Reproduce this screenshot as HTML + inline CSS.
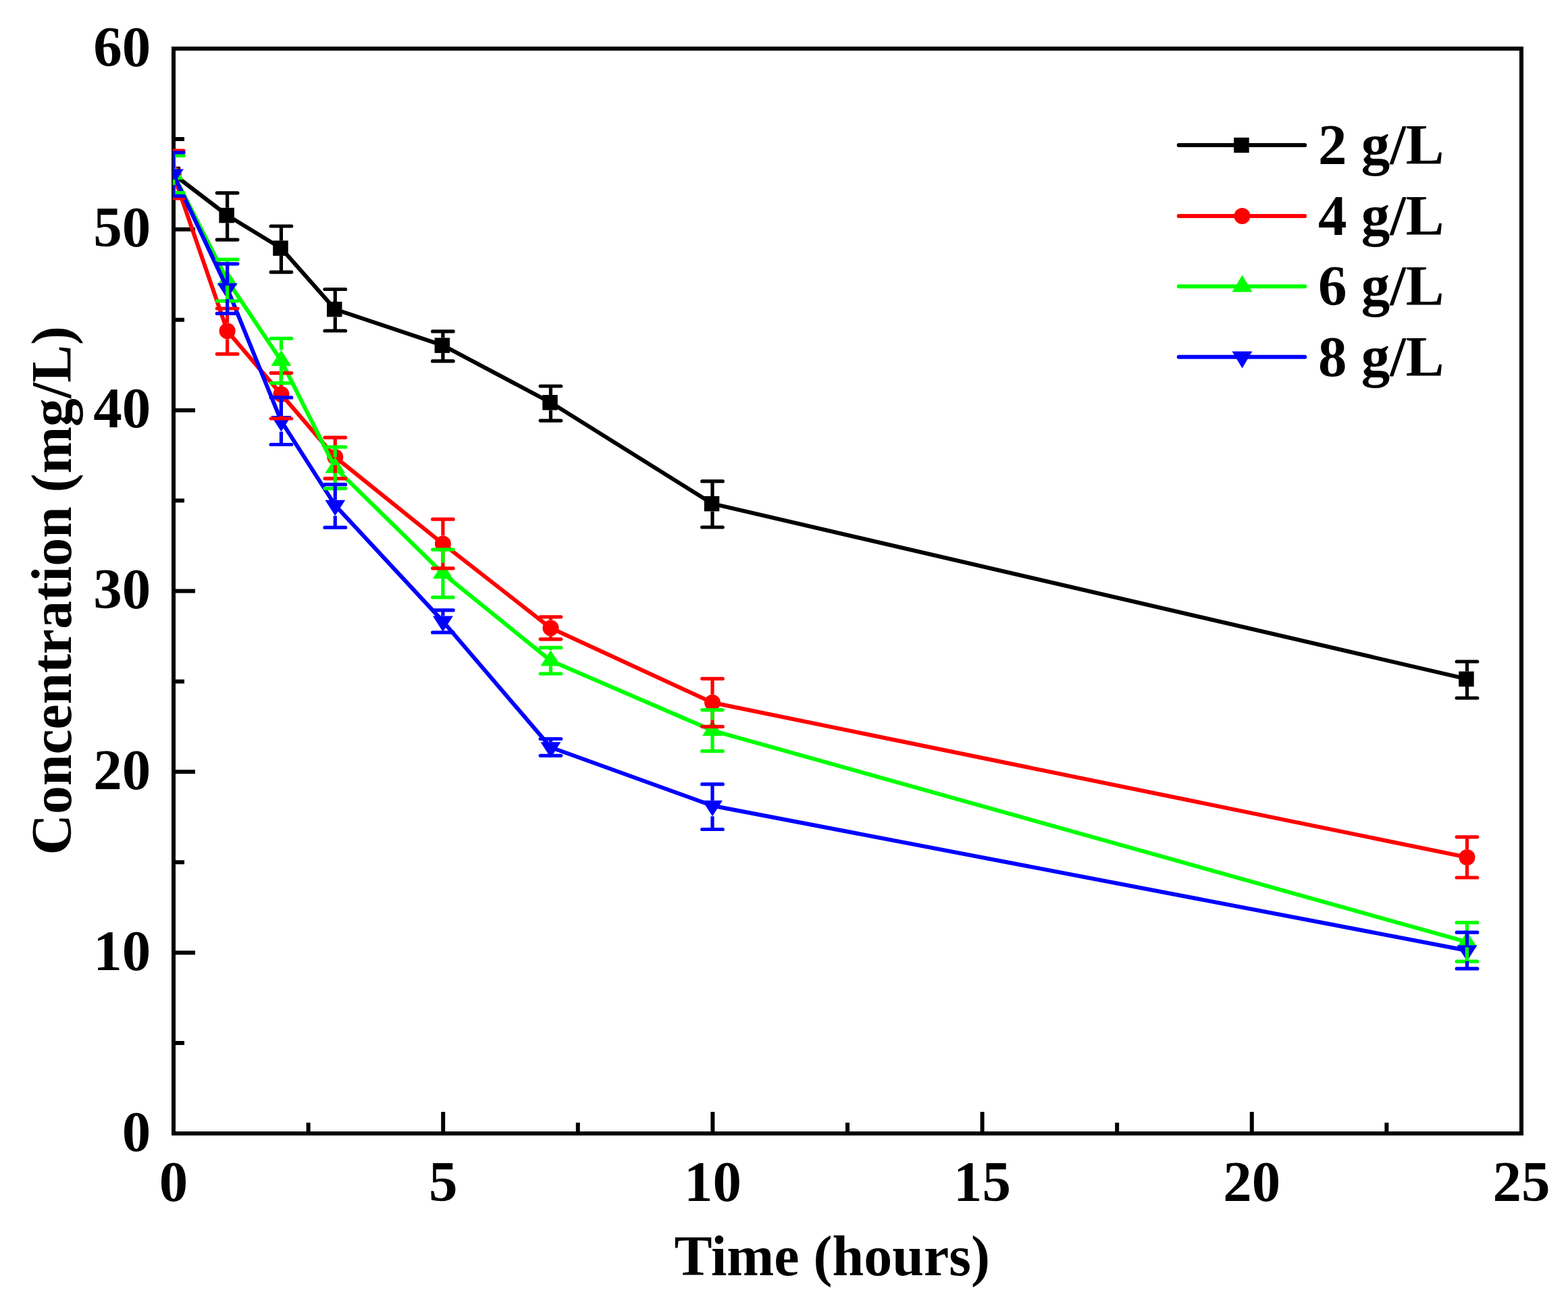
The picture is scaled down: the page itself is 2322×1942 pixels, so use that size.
<!DOCTYPE html>
<html><head><meta charset="utf-8"><title>Concentration vs Time</title>
<style>
html,body{margin:0;padding:0;background:#fff;}
body{width:2322px;height:1942px;overflow:hidden;}
svg{display:block;}
text{font-family:"Liberation Serif","Times New Roman",serif;font-weight:bold;font-size:85px;fill:#000;}
text.t{font-size:84px;}
</style></head><body>
<svg width="2322" height="1942" viewBox="0 0 2322 1942">
<rect width="2322" height="1942" fill="#fff"/>
<defs><clipPath id="pc"><rect x="255.8" y="72.0" width="1997.2" height="1607.0"/></clipPath></defs>

<g stroke="#000" stroke-width="6" fill="none">
<path d="M257.0,69.0V1682.0M2253.0,69.0V1682.0M254.0,72.0H2256.0M254.0,1679.0H2256.0"/>
<path d="M257.0,1679.0V1647.0M656.2,1679.0V1647.0M1055.4,1679.0V1647.0M1454.6,1679.0V1647.0M1853.8,1679.0V1647.0M2253.0,1679.0V1647.0M456.6,1679.0V1663.0M855.8,1679.0V1663.0M1255.0,1679.0V1663.0M1654.2,1679.0V1663.0M2053.4,1679.0V1663.0M257.0,1679.0H289.0M257.0,1411.2H289.0M257.0,1143.3H289.0M257.0,875.5H289.0M257.0,607.7H289.0M257.0,339.8H289.0M257.0,72.0H289.0M257.0,1545.1H273.0M257.0,1277.2H273.0M257.0,1009.4H273.0M257.0,741.6H273.0M257.0,473.8H273.0M257.0,205.9H273.0"/>
</g>
<g clip-path="url(#pc)">
<path d="M256.8,258.0L336.6,319.0L416.4,367.7L496.3,458.2L655.9,511.7L815.5,596.3L1055.0,746.1L2172.5,1005.9" stroke="#000000" stroke-width="6" stroke-linejoin="round" stroke-linecap="round" fill="none"/>
<rect x="244.6" y="246.8" width="22.5" height="22.5" fill="#000000"/>
<rect x="324.4" y="307.8" width="22.5" height="22.5" fill="#000000"/>
<rect x="404.2" y="356.4" width="22.5" height="22.5" fill="#000000"/>
<rect x="484.0" y="446.9" width="22.5" height="22.5" fill="#000000"/>
<rect x="643.6" y="500.4" width="22.5" height="22.5" fill="#000000"/>
<rect x="803.3" y="585.0" width="22.5" height="22.5" fill="#000000"/>
<rect x="1042.8" y="734.9" width="22.5" height="22.5" fill="#000000"/>
<rect x="2160.2" y="994.6" width="22.5" height="22.5" fill="#000000"/>
<path d="M256.8,258.5L336.6,490.3L416.4,584.0L496.3,677.0L655.9,805.5L815.5,930.3L1055.0,1040.8L2172.5,1269.9" stroke="#ff0000" stroke-width="6" stroke-linejoin="round" stroke-linecap="round" fill="none"/>
<circle cx="256.8" cy="258.5" r="12.0" fill="#ff0000"/>
<circle cx="336.6" cy="490.3" r="12.0" fill="#ff0000"/>
<circle cx="416.4" cy="584.0" r="12.0" fill="#ff0000"/>
<circle cx="496.3" cy="677.0" r="12.0" fill="#ff0000"/>
<circle cx="655.9" cy="805.5" r="12.0" fill="#ff0000"/>
<circle cx="815.5" cy="930.3" r="12.0" fill="#ff0000"/>
<circle cx="1055.0" cy="1040.8" r="12.0" fill="#ff0000"/>
<circle cx="2172.5" cy="1269.9" r="12.0" fill="#ff0000"/>
<path d="M256.8,258.1L336.6,415.2L416.4,534.3L496.3,692.9L655.9,849.4L815.5,978.7L1055.0,1082.1L2172.5,1395.4" stroke="#00ff00" stroke-width="6" stroke-linejoin="round" stroke-linecap="round" fill="none"/>
<path d="M256.8,242.4L271.8,265.9L241.8,265.9Z" fill="#00ff00"/>
<path d="M336.6,399.5L351.6,423.0L321.6,423.0Z" fill="#00ff00"/>
<path d="M416.4,518.6L431.4,542.1L401.4,542.1Z" fill="#00ff00"/>
<path d="M496.3,677.2L511.3,700.7L481.3,700.7Z" fill="#00ff00"/>
<path d="M655.9,833.7L670.9,857.2L640.9,857.2Z" fill="#00ff00"/>
<path d="M815.5,963.0L830.5,986.5L800.5,986.5Z" fill="#00ff00"/>
<path d="M1055.0,1066.4L1070.0,1089.9L1040.0,1089.9Z" fill="#00ff00"/>
<path d="M2172.5,1379.7L2187.5,1403.2L2157.5,1403.2Z" fill="#00ff00"/>
<path d="M256.8,258.2L336.6,427.4L416.4,623.7L496.3,748.5L655.9,920.4L815.5,1107.0L1055.0,1193.5L2172.5,1408.0" stroke="#0000ff" stroke-width="6" stroke-linejoin="round" stroke-linecap="round" fill="none"/>
<path d="M256.8,273.9L271.8,250.4L241.8,250.4Z" fill="#0000ff"/>
<path d="M336.6,443.1L351.6,419.6L321.6,419.6Z" fill="#0000ff"/>
<path d="M416.4,639.4L431.4,615.9L401.4,615.9Z" fill="#0000ff"/>
<path d="M496.3,764.2L511.3,740.7L481.3,740.7Z" fill="#0000ff"/>
<path d="M655.9,936.1L670.9,912.6L640.9,912.6Z" fill="#0000ff"/>
<path d="M815.5,1122.7L830.5,1099.2L800.5,1099.2Z" fill="#0000ff"/>
<path d="M1055.0,1209.2L1070.0,1185.7L1040.0,1185.7Z" fill="#0000ff"/>
<path d="M2172.5,1423.7L2187.5,1400.2L2157.5,1400.2Z" fill="#0000ff"/>
<path d="M336.6,285.8V307.8M336.6,330.2V355.1M416.4,335.0V356.4M416.4,378.9V403.1M496.3,428.5V446.9M496.3,469.4V490.0M655.9,490.9V500.4M655.9,523.0V534.9M815.5,572.0V585.0M815.5,607.5V623.1M1055.0,712.9V734.9M1055.0,757.4V781.0M2172.5,980.0V994.6M2172.5,1017.1V1034.0" stroke="#000000" stroke-width="5.2" fill="none"/>
<path d="M321.3,285.8H351.9M321.3,355.1H351.9M401.1,335.0H431.7M401.1,403.1H431.7M481.0,428.5H511.6M481.0,490.0H511.6M640.6,490.9H671.2M640.6,534.9H671.2M800.2,572.0H830.8M800.2,623.1H830.8M1039.7,712.9H1070.3M1039.7,781.0H1070.3M2157.2,980.0H2187.8M2157.2,1034.0H2187.8" stroke="#000000" stroke-width="5.2" stroke-linecap="round" fill="none"/>
<path d="M256.8,223.0V246.5M256.8,270.5V294.0M336.6,457.0V478.3M336.6,502.3V524.3M416.4,552.6V572.0M416.4,596.0V620.0M496.3,648.1V665.0M496.3,689.0V708.8M655.9,769.2V793.5M655.9,817.5V841.8M815.5,913.8V918.3M815.5,942.3V946.8M1055.0,1005.3V1028.8M1055.0,1052.8V1076.3M2172.5,1239.8V1257.9M2172.5,1281.9V1300.0" stroke="#ff0000" stroke-width="5.2" fill="none"/>
<path d="M241.5,223.0H272.1M241.5,294.0H272.1M321.3,457.0H351.9M321.3,524.3H351.9M401.1,552.6H431.7M401.1,620.0H431.7M481.0,648.1H511.6M481.0,708.8H511.6M640.6,769.2H671.2M640.6,841.8H671.2M800.2,913.8H830.8M800.2,946.8H830.8M1039.7,1005.3H1070.3M1039.7,1076.3H1070.3M2157.2,1239.8H2187.8M2157.2,1300.0H2187.8" stroke="#ff0000" stroke-width="5.2" stroke-linecap="round" fill="none"/>
<path d="M256.8,230.6V242.4M256.8,265.9V285.6M336.6,384.4V399.5M336.6,423.0V445.9M416.4,501.4V518.6M416.4,542.1V567.3M496.3,662.2V677.2M496.3,700.7V723.6M655.9,814.1V833.7M655.9,857.2V884.8M815.5,959.4V963.0M815.5,986.5V998.0M1055.0,1051.6V1066.4M1055.0,1089.9V1112.7M2172.5,1366.7V1379.7M2172.5,1403.2V1424.2" stroke="#00ff00" stroke-width="5.2" fill="none"/>
<path d="M241.5,230.6H272.1M241.5,285.6H272.1M321.3,384.4H351.9M321.3,445.9H351.9M401.1,501.4H431.7M401.1,567.3H431.7M481.0,662.2H511.6M481.0,723.6H511.6M640.6,814.1H671.2M640.6,884.8H671.2M800.2,959.4H830.8M800.2,998.0H830.8M1039.7,1051.6H1070.3M1039.7,1112.7H1070.3M2157.2,1366.7H2187.8M2157.2,1424.2H2187.8" stroke="#00ff00" stroke-width="5.2" stroke-linecap="round" fill="none"/>
<path d="M256.8,226.0V250.4M256.8,273.9V290.4M336.6,390.8V419.6M336.6,443.1V464.4M416.4,588.9V615.9M416.4,639.4V658.5M496.3,717.7V740.7M496.3,764.2V781.4M655.9,903.9V912.6M655.9,936.1V936.9M815.5,1094.5V1099.2M1055.0,1161.7V1185.7M1055.0,1209.2V1228.5M2172.5,1381.2V1400.2M2172.5,1423.7V1434.9" stroke="#0000ff" stroke-width="5.2" fill="none"/>
<path d="M241.5,226.0H272.1M241.5,290.4H272.1M321.3,390.8H351.9M321.3,464.4H351.9M401.1,588.9H431.7M401.1,658.5H431.7M481.0,717.7H511.6M481.0,781.4H511.6M640.6,903.9H671.2M640.6,936.9H671.2M800.2,1094.5H830.8M800.2,1119.3H830.8M1039.7,1161.7H1070.3M1039.7,1228.5H1070.3M2157.2,1381.2H2187.8M2157.2,1434.9H2187.8" stroke="#0000ff" stroke-width="5.2" stroke-linecap="round" fill="none"/>
</g>
<text x="257.0" y="1779.0" text-anchor="middle">0</text>
<text x="656.2" y="1779.0" text-anchor="middle">5</text>
<text x="1055.4" y="1779.0" text-anchor="middle">10</text>
<text x="1454.6" y="1779.0" text-anchor="middle">15</text>
<text x="1853.8" y="1779.0" text-anchor="middle">20</text>
<text x="2253.0" y="1779.0" text-anchor="middle">25</text>
<text x="223.2" y="1704.6" text-anchor="end">0</text>
<text x="223.2" y="1436.8" text-anchor="end">10</text>
<text x="223.2" y="1168.9" text-anchor="end">20</text>
<text x="223.2" y="901.1" text-anchor="end">30</text>
<text x="223.2" y="633.3" text-anchor="end">40</text>
<text x="223.2" y="365.4" text-anchor="end">50</text>
<text x="223.2" y="97.6" text-anchor="end">60</text>
<text class="t" x="998.5" y="1889.4">Time (hours)</text>
<text class="t" style="font-size:83.7px" transform="translate(104.7,1266.4) rotate(-90)">Concentration (mg/L)</text>
<path d="M1745.7,215.0H1932.3" stroke="#000000" stroke-width="6" stroke-linecap="round"/>
<rect x="1827.2" y="203.8" width="22.5" height="22.5" fill="#000000"/>
<text x="1952" y="242.8">2 g/L</text>
<path d="M1745.7,320.0H1932.3" stroke="#ff0000" stroke-width="6" stroke-linecap="round"/>
<circle cx="1839.5" cy="320.0" r="12.0" fill="#ff0000"/>
<text x="1952" y="347.8">4 g/L</text>
<path d="M1745.7,424.2H1932.3" stroke="#00ff00" stroke-width="6" stroke-linecap="round"/>
<path d="M1839.5,407.5L1854.5,432.5L1824.5,432.5Z" fill="#00ff00"/>
<text x="1952" y="452.0">6 g/L</text>
<path d="M1745.7,528.7H1932.3" stroke="#0000ff" stroke-width="6" stroke-linecap="round"/>
<path d="M1839.5,545.4L1854.5,520.4L1824.5,520.4Z" fill="#0000ff"/>
<text x="1952" y="556.5">8 g/L</text>
</svg></body></html>
